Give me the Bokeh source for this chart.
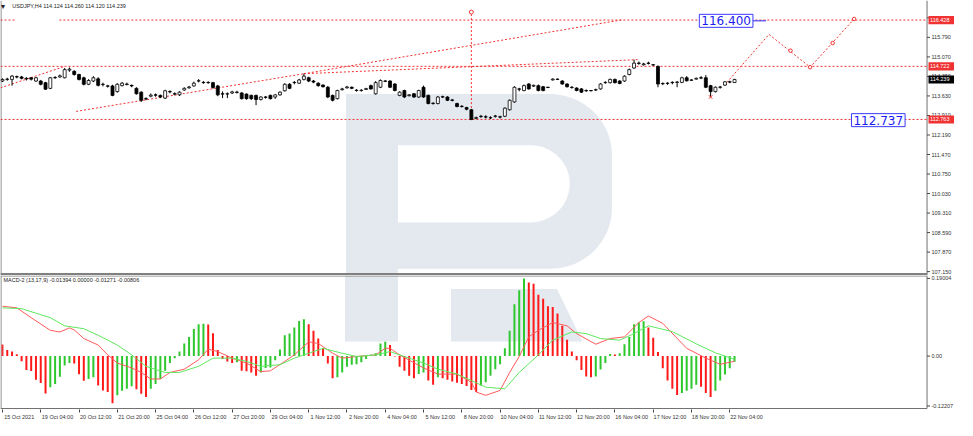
import numpy as np
from bokeh.plotting import figure
from bokeh.layouts import column
from bokeh.models import ColumnDataSource, Range1d, FixedTicker, Label
from bokeh.core.properties import value
from bokeh.embed import file_html
from bokeh.resources import INLINE

# ---------------- data (USDJPY H4) ----------------
opens = [114.18,114.24,114.24,114.34,114.33,114.28,114.30,114.18,114.18,114.12,
113.91,114.30,114.33,114.30,114.58,114.54,114.42,114.30,114.06,114.18,
114.26,114.05,114.00,114.00,113.79,114.01,114.05,114.02,113.91,113.77,
113.53,113.62,113.67,113.65,113.55,113.79,113.71,113.67,113.85,113.93,
114.00,114.18,114.13,114.13,114.12,114.00,113.71,113.70,113.74,113.77,
113.74,113.70,113.65,113.65,113.50,113.59,113.65,113.59,113.67,113.82,
114.06,114.12,114.10,114.24,114.30,114.18,114.10,114.03,
113.95,113.65,113.53,113.86,113.93,113.95,113.84,113.83,113.87,114.01,
113.71,113.95,114.18,114.18,114.07,113.65,113.83,113.64,113.71,113.59,
113.95,113.65,113.36,113.35,113.60,113.59,113.48,113.35,113.25,113.20,
113.12,112.80,112.88,112.86,112.82,112.88,112.86,112.88,113.12,113.41,
113.89,113.83,114.07,113.99,114.01,113.97,113.95,114.22,114.25,114.18,
114.07,113.95,113.92,113.89,113.83,113.83,113.85,113.89,114.12,114.12,
114.24,114.18,114.18,114.42,114.66,114.84,114.78,114.84,114.78,114.72,
114.09,114.09,114.13,114.13,114.13,114.30,114.22,114.25,114.30,114.30,
114.01,113.79,113.95,114.03,114.15,114.124]
highs = [114.28,114.30,114.40,114.38,114.37,114.32,114.33,114.33,114.22,114.15,
114.33,114.36,114.42,114.66,114.68,114.58,114.45,114.34,114.25,114.36,
114.32,114.12,114.04,114.04,114.10,114.14,114.12,114.05,113.95,113.80,
113.58,113.72,113.72,113.68,113.86,113.84,113.76,113.80,113.95,114.00,
114.16,114.25,114.18,114.17,114.15,114.04,113.80,113.76,113.82,113.82,
113.77,113.72,113.68,113.68,113.62,113.63,113.68,113.70,113.80,114.10,
114.10,114.18,114.26,114.45,114.34,114.22,114.13,114.06,
114.00,113.68,113.86,113.93,114.00,113.98,113.88,113.88,113.93,114.05,
114.18,114.24,114.22,114.21,114.10,113.80,113.86,113.70,113.74,113.86,
114.01,113.68,113.40,113.63,113.64,113.62,113.52,113.38,113.29,113.23,
113.15,112.87,112.93,112.92,112.88,112.93,112.90,113.21,113.50,113.99,
113.93,114.05,114.10,114.05,114.05,114.00,113.97,114.28,114.27,114.21,
114.10,113.99,113.95,113.92,113.87,113.85,113.90,114.10,114.17,114.27,
114.27,114.21,114.39,114.64,114.97,114.90,114.85,114.89,114.80,114.75,
114.13,114.14,114.17,114.18,114.34,114.36,114.24,114.31,114.36,114.40,
114.04,113.98,114.00,114.18,114.19,114.260]
lows = [114.14,114.19,114.01,114.28,114.24,114.20,114.20,114.15,114.02,113.85,
113.88,114.26,114.30,114.28,114.52,114.38,114.20,114.02,114.03,114.14,
113.98,113.98,113.94,113.62,113.75,113.98,114.02,113.95,113.68,113.41,
113.47,113.58,113.60,113.55,113.52,113.73,113.65,113.63,113.82,113.90,
113.97,114.13,114.08,114.08,113.90,113.62,113.55,113.55,113.70,113.72,
113.50,113.49,113.48,113.29,113.46,113.53,113.50,113.52,113.64,113.79,
113.88,114.06,114.07,114.20,114.14,114.10,113.97,113.94,
113.55,113.43,113.50,113.83,113.90,113.88,113.79,113.79,113.85,113.86,
113.68,113.92,114.14,113.92,113.80,113.62,113.55,113.61,113.56,113.56,
113.56,113.32,113.31,113.32,113.55,113.44,113.43,113.21,113.20,113.10,
112.74,112.77,112.82,112.80,112.78,112.83,112.80,112.85,113.09,113.38,
113.80,113.80,113.86,113.96,113.80,113.80,113.92,114.20,114.22,114.04,
113.94,113.90,113.80,113.74,113.78,113.80,113.81,113.86,114.08,114.09,
114.09,114.06,114.15,114.39,114.63,114.78,114.75,114.79,114.75,113.95,
114.03,114.04,114.06,113.95,114.10,114.16,114.19,114.23,114.25,113.92,
113.59,113.76,113.90,114.00,114.10,114.120]
closes = [114.24,114.25,114.36,114.33,114.28,114.26,114.25,114.30,114.06,113.88,
114.30,114.31,114.37,114.60,114.62,114.42,114.24,114.06,114.20,114.30,
114.02,114.06,113.99,113.65,114.06,114.10,114.07,114.00,113.71,113.47,
113.52,113.66,113.66,113.59,113.82,113.78,113.70,113.77,113.91,113.96,
114.10,114.19,114.12,114.12,113.94,113.67,113.70,113.71,113.78,113.76,
113.53,113.53,113.53,113.50,113.59,113.58,113.53,113.67,113.77,114.06,
113.91,114.13,114.22,114.36,114.18,114.14,114.01,113.97,
113.59,113.47,113.83,113.89,113.96,113.91,113.83,113.84,113.90,113.89,
114.12,114.20,114.17,113.95,113.83,113.77,113.59,113.67,113.59,113.83,
113.59,113.35,113.35,113.59,113.59,113.47,113.47,113.24,113.24,113.14,
112.76,112.83,112.87,112.85,112.83,112.89,112.85,113.18,113.47,113.95,
113.88,114.01,113.89,114.02,113.83,113.83,113.94,114.25,114.24,114.07,
113.97,113.94,113.83,113.77,113.82,113.82,113.86,114.07,114.13,114.24,
114.12,114.09,114.36,114.60,114.84,114.83,114.81,114.83,114.77,114.07,
114.08,114.10,114.12,114.14,114.30,114.19,114.21,114.28,114.29,113.95,
113.79,113.95,113.96,114.15,114.14,114.239]

hist = [0.0285,0.0150,0.0111,0.0048,-0.0127,-0.0340,-0.0364,-0.0578,-0.0657,-0.0918,
-0.0760,-0.0681,-0.0507,-0.0230,-0.0166,-0.0182,-0.0443,-0.0602,-0.0560,-0.0520,
-0.0721,-0.0839,-0.0879,-0.1156,-0.0958,-0.0850,-0.0800,-0.0740,-0.0810,-0.0920,
-0.1000,-0.0800,-0.0680,-0.0560,-0.0360,-0.0170,-0.0050,0.0110,0.0310,0.0470,
0.0660,0.0780,0.0790,0.0770,0.0560,0.0150,-0.0070,-0.0130,-0.0170,-0.0150,
-0.0360,-0.0370,-0.0400,-0.0480,-0.0400,-0.0290,-0.0280,-0.0100,0.0160,0.0510,
0.0550,0.0700,0.0860,0.0900,0.0780,0.0620,0.0430,0.0190,-0.0180,-0.0540,
-0.0520,-0.0400,-0.0260,-0.0210,-0.0200,-0.0150,-0.0070,0.0030,0.0070,0.0310,
0.0350,0.0270,-0.0010,-0.0260,-0.0360,-0.0480,-0.0540,-0.0440,-0.0400,-0.0600,
-0.0700,-0.0520,-0.0540,-0.0580,-0.0620,-0.0650,-0.0680,-0.0730,-0.0830,-0.0880,
-0.0720,-0.0640,-0.0480,-0.0320,-0.0200,0.0190,0.0620,0.1270,0.1610,0.1900,
0.1800,0.1770,0.1500,0.1400,0.1220,0.1200,0.1040,0.0740,0.0400,0.0110,
-0.0100,-0.0340,-0.0500,-0.0520,-0.0500,-0.0330,-0.0170,0.0050,0.0040,0.0070,
0.0290,0.0470,0.0780,0.0820,0.0850,0.0700,0.0450,0.0100,-0.0300,-0.0600,
-0.0800,-0.0950,-0.0900,-0.0850,-0.0800,-0.0700,-0.0750,-0.0900,-0.1000,-0.0850,
-0.0600,-0.0450,-0.0300,-0.0139]

macd_x = [0,3,6,10,12,14,15,17,20,22,24,27,29,31,33,35,38,41,43,45,48,51,54,56,59,61,64,66,69,71,74,78,80,81,83,85,88,91,95,98,99,101,104,106,108,110,112,115,118,120,124,127,130,133,135,138,143,147,150,153]
macd_y = [0.122,0.118,0.094,0.063,0.059,0.069,0.064,0.043,0.027,0.003,-0.017,-0.029,-0.040,-0.056,-0.056,-0.040,-0.032,-0.009,0.017,0.011,-0.005,-0.017,-0.038,-0.036,-0.013,0.003,0.035,0.031,0.007,-0.005,-0.001,0.003,0.019,0.019,0.003,-0.010,-0.029,-0.044,-0.044,-0.064,-0.088,-0.096,-0.084,-0.040,-0.001,0.047,0.063,0.082,0.074,0.055,0.029,0.043,0.047,0.082,0.098,0.080,0.019,-0.005,-0.020,-0.0127]
sig_x = [0,4,10,13,17,20,24,27,30,34,37,41,44,48,51,54,58,61,65,67,71,74,78,81,84,88,91,95,98,101,105,108,112,115,119,122,125,129,132,135,140,145,149,153]
sig_y = [0.118,0.116,0.094,0.074,0.067,0.051,0.027,0.003,-0.025,-0.040,-0.040,-0.025,-0.005,-0.005,-0.013,-0.025,-0.021,-0.005,0.011,0.019,0.007,-0.001,0.003,0.011,-0.001,-0.017,-0.032,-0.044,-0.060,-0.076,-0.080,-0.040,0.003,0.039,0.059,0.055,0.043,0.039,0.055,0.074,0.060,0.030,0.008,-0.008]

price_ticks = [107.150,107.870,108.590,109.310,110.030,110.750,111.470,112.190,112.910,113.630,114.350,115.070,115.790,116.510]
price_tick_labels = ["107.150","107.870","108.590","109.310","110.030","110.750","111.470","112.190",
                     "112.910","113.630","114.350","115.070","115.790","116.510"]
macd_ticks = [0.19004, 0.0, -0.12207]
macd_tick_labels = ["0.19004", "0.00", "-0.12207"]
date_pos = [0,8,16,24,32,40,48,56,64,72,80,88,96,104,112,120,128,136,144,152]
date_labels = ["15 Oct 2021","19 Oct 04:00","20 Oct 12:00","21 Oct 20:00","25 Oct 04:00","26 Oct 12:00",
               "27 Oct 20:00","29 Oct 04:00","1 Nov 12:00","2 Nov 20:00","4 Nov 04:00","5 Nov 12:00",
               "8 Nov 20:00","10 Nov 04:00","11 Nov 12:00","12 Nov 20:00","16 Nov 04:00","17 Nov 12:00",
               "18 Nov 20:00","22 Nov 04:00"]

levels = [116.428, 114.722, 112.763]
level_tags = ["116.428", "114.722", "112.763"]
last_price = 114.239
trend_x = [[-0.4, 13.0], [15.4, 63.0], [63.0, 133.0], [63.0, 129.3]]
trend_y = [[113.93, 114.72], [113.06, 114.45], [114.45, 114.97], [114.45, 116.43]]
vline_x = 98
vline_top = 116.72
fc_x = [151.4, 160.2, 168.8, 178.0]
fc_y = [114.13, 115.90, 114.69, 116.47]
fc_mark_x = [164.7, 168.8, 173.5, 178.0]
fc_mark_y = [115.30, 114.69, 115.58, 116.47]
target_hi = 116.400
target_lo = 112.737

# ---------------- geometry helpers (reference pixel -> data) ----------------
def xr(px):
    return (px - 2) / 4.875

def yt(px):
    return 107.15 + (281 - px) / 28.1

def ym(px):
    return (368 - px) / 421.0

FONT = "Liberation Sans"
SMALL = "5.5px"
W = 955
RED = "#f03232"
WM = "#e4e9f0"
BORDER = "#707070"

N = len(closes)
idx = list(range(N))


def base_fig(h, yr, **kw):
    f = figure(frame_width=W, frame_height=h, x_range=Range1d(xr(0), xr(973)), y_range=yr,
               output_backend="svg", toolbar_location=None, min_border=0,
               outline_line_color=None, background_fill_color="white",
               border_fill_color="white", **kw)
    f.grid.visible = False
    return f


def price_axis(f, ticks, labels, ytop, ybot):
    # right-hand scale drawn next to the chart border
    f.segment(x0=[xr(944)], x1=[xr(944)], y0=[ybot], y1=[ytop], line_color=BORDER, line_width=1)
    f.segment(x0=[xr(0.5)], x1=[xr(0.5)], y0=[ybot], y1=[ytop], line_color=BORDER, line_width=1)
    f.segment(x0=[xr(944)] * len(ticks), x1=[xr(947)] * len(ticks), y0=ticks, y1=ticks,
              line_color="#444", line_width=1)
    f.text(x=[xr(948.5)] * len(ticks), y=ticks, text=labels, text_baseline="middle",
           text_align="left", text_font=value(FONT), text_font_size=SMALL, text_color="#333")


# ---------------- main price panel ----------------
p1 = base_fig(275, Range1d(yt(285), yt(0)), x_axis_location=None, y_axis_location=None)

# watermark (decorative)
def arc(cx, cy, r, a0, a1, n=20):
    t = np.linspace(np.radians(a0), np.radians(a1), n)
    return list(cx + r * np.cos(t)), list(cy - r * np.sin(t))

ax1, ay1 = arc(560, 160, 63, 90, 0)
ax2, ay2 = arc(560, 215, 63, 0, -90)
outer_px = [352, 560] + ax1 + [623] + ax2 + [405, 405, 352]
outer_py = [97, 97] + ay1 + [215] + ay2 + [278, 285, 285]
p1.patch([xr(v) for v in outer_px], [yt(v) for v in outer_py], color=WM, line_color=None)
hx1, hy1 = arc(540, 190, 40, 90, -90)
hole_px = [405, 540] + hx1 + [405]
hole_py = [150, 150] + hy1 + [230]
p1.patch([xr(v) for v in hole_px], [yt(v) for v in hole_py], color="white", line_color=None)

price_axis(p1, price_ticks, price_tick_labels, yt(0), yt(285))
p1.quad(left=[xr(0)], right=[xr(944)], bottom=[yt(285)], top=[yt(282.5)], fill_color="#808080",
        line_color=None)

# level lines and trend lines
p1.segment(x0=[xr(0), xr(60), xr(0), xr(0)], x1=[xr(15), xr(944), xr(944), xr(944)],
           y0=[levels[0], levels[0], levels[1], levels[2]], y1=[levels[0], levels[0], levels[1], levels[2]],
           line_color=RED, line_dash="2 2", line_width=1)
p1.multi_line(trend_x, trend_y, line_color=RED, line_dash="2 2", line_width=1)
p1.segment(x0=[vline_x], x1=[vline_x], y0=[lows[vline_x]], y1=[vline_top], line_color=RED, line_dash="2 2")
p1.scatter([vline_x], [vline_top], marker="circle", size=4, fill_color="white", line_color=RED)

# candles
src = ColumnDataSource(dict(
    x=idx, o=opens, h=highs, l=lows, c=closes,
    top=[max(a, b) for a, b in zip(opens, closes)],
    bottom=[min(a, b) for a, b in zip(opens, closes)],
    fill=["white" if c >= o else "black" for o, c in zip(opens, closes)]))
p1.segment(x0="x", x1="x", y0="l", y1="h", source=src, line_color="black", line_width=1)
p1.vbar(x="x", top="top", bottom="bottom", width=0.62, fill_color="fill", line_color="black",
        line_width=0.8, source=src)

# forecast path
p1.line(fc_x, fc_y, line_color=RED, line_dash="2 2", line_width=1)
p1.scatter(fc_mark_x, fc_mark_y, marker="circle", size=3.5, fill_color="white", line_color=RED)
p1.scatter([148], [lows[148]], marker="x", size=5, line_color=RED)

# target labels
p1.segment(x0=[xr(766), xr(913)], x1=[xr(780), xr(920)], y0=[target_hi, target_lo],
           y1=[target_hi, target_lo], line_color="#2a2aff", line_width=1)
for xv, val in [(xr(712), target_hi), (xr(867), target_lo)]:
    p1.add_layout(Label(x=xv, y=val, text=f"{val:.3f}", text_align="left", text_baseline="middle",
                        text_font="DejaVu Sans", text_font_size="12px", text_color="#1c1cf0",
                        background_fill_color="white", border_line_color="#3a3aff",
                        border_line_width=1, padding=2))

# price tags on the scale
tag_vals = [levels[0], levels[1], last_price, levels[2]]
tag_text = [level_tags[0], level_tags[1], f"{last_price:.3f}", level_tags[2]]
tag_col = [RED, RED, "black", RED]
half = 4.2 / 28.1
p1.quad(left=[xr(945.5)] * 4, right=[xr(971.5)] * 4, bottom=[v - half for v in tag_vals],
        top=[v + half for v in tag_vals], fill_color=tag_col, line_color=None)
p1.text(x=[xr(947)] * 4, y=tag_vals, text=tag_text, text_baseline="middle", text_align="left",
        text_font=value(FONT), text_font_size=SMALL, text_color="white")

# header
p1.add_layout(Label(x=xr(1), y=yt(6), text="\u25BE", text_baseline="middle", text_font=FONT,
                    text_font_size="8px", text_color="#222"))
p1.add_layout(Label(x=xr(12), y=yt(6), text="USDJPY,H4  114.124 114.260 114.120 114.239",
                    text_baseline="middle", text_font=FONT, text_font_size=SMALL, text_color="#222"))

# ---------------- MACD panel ----------------
p2 = base_fig(134, Range1d(ym(423), ym(285)), y_axis_location=None)
p2.x_range = p1.x_range

p2.quad(left=xr(351), right=xr(405), bottom=ym(353), top=ym(285), color=WM, line_color=None)
p2.patch([xr(459), xr(567), xr(593), xr(459)], [ym(299), ym(299), ym(353), ym(353)],
         color=WM, line_color=None)

price_axis(p2, macd_ticks, macd_tick_labels, ym(285), ym(422))
p2.quad(left=[xr(0)], right=[xr(944)], bottom=[ym(286)], top=[ym(285)], fill_color="#808080",
        line_color=None)
p2.segment(x0=[xr(0)], x1=[xr(944)], y0=[ym(422)], y1=[ym(422)], line_color=BORDER, line_width=1)

hcol = [RED] + ["#2ec82e" if hist[i] > hist[i - 1] else "#ff1a1a" for i in range(1, N)]
hsrc = ColumnDataSource(dict(x=idx, top=hist, col=hcol))
p2.vbar(x="x", top="top", bottom=0, width=0.42, fill_color="col", line_color=None, source=hsrc)
p2.line(macd_x, macd_y, line_color="#ff5a5a", line_width=1)
p2.line(sig_x, sig_y, line_color="#5ee85e", line_width=1)

p2.add_layout(Label(x=xr(3), y=ym(290), text="MACD-2 (13,17,9) -0.01394 0.00000 -0.01271 -0.00806",
                    text_baseline="middle", text_font=FONT, text_font_size=SMALL, text_color="#222"))

xa = p2.xaxis[0]
centers = [d + 3.5 for d in date_pos]
xa.ticker = FixedTicker(ticks=centers, minor_ticks=date_pos)
xa.major_label_overrides = {c: lab for c, lab in zip(centers, date_labels)}
xa.major_tick_out = 0
xa.major_tick_in = 0
xa.minor_tick_out = 3
xa.minor_tick_in = 0
xa.minor_tick_line_color = "#444"
xa.axis_line_color = None
xa.major_label_text_font = FONT
xa.major_label_text_font_size = SMALL
xa.major_label_text_color = "#333"
xa.major_label_standoff = 1

layout = column(p1, p2, spacing=0)
open("out.html", "w").write(file_html(layout, INLINE))
